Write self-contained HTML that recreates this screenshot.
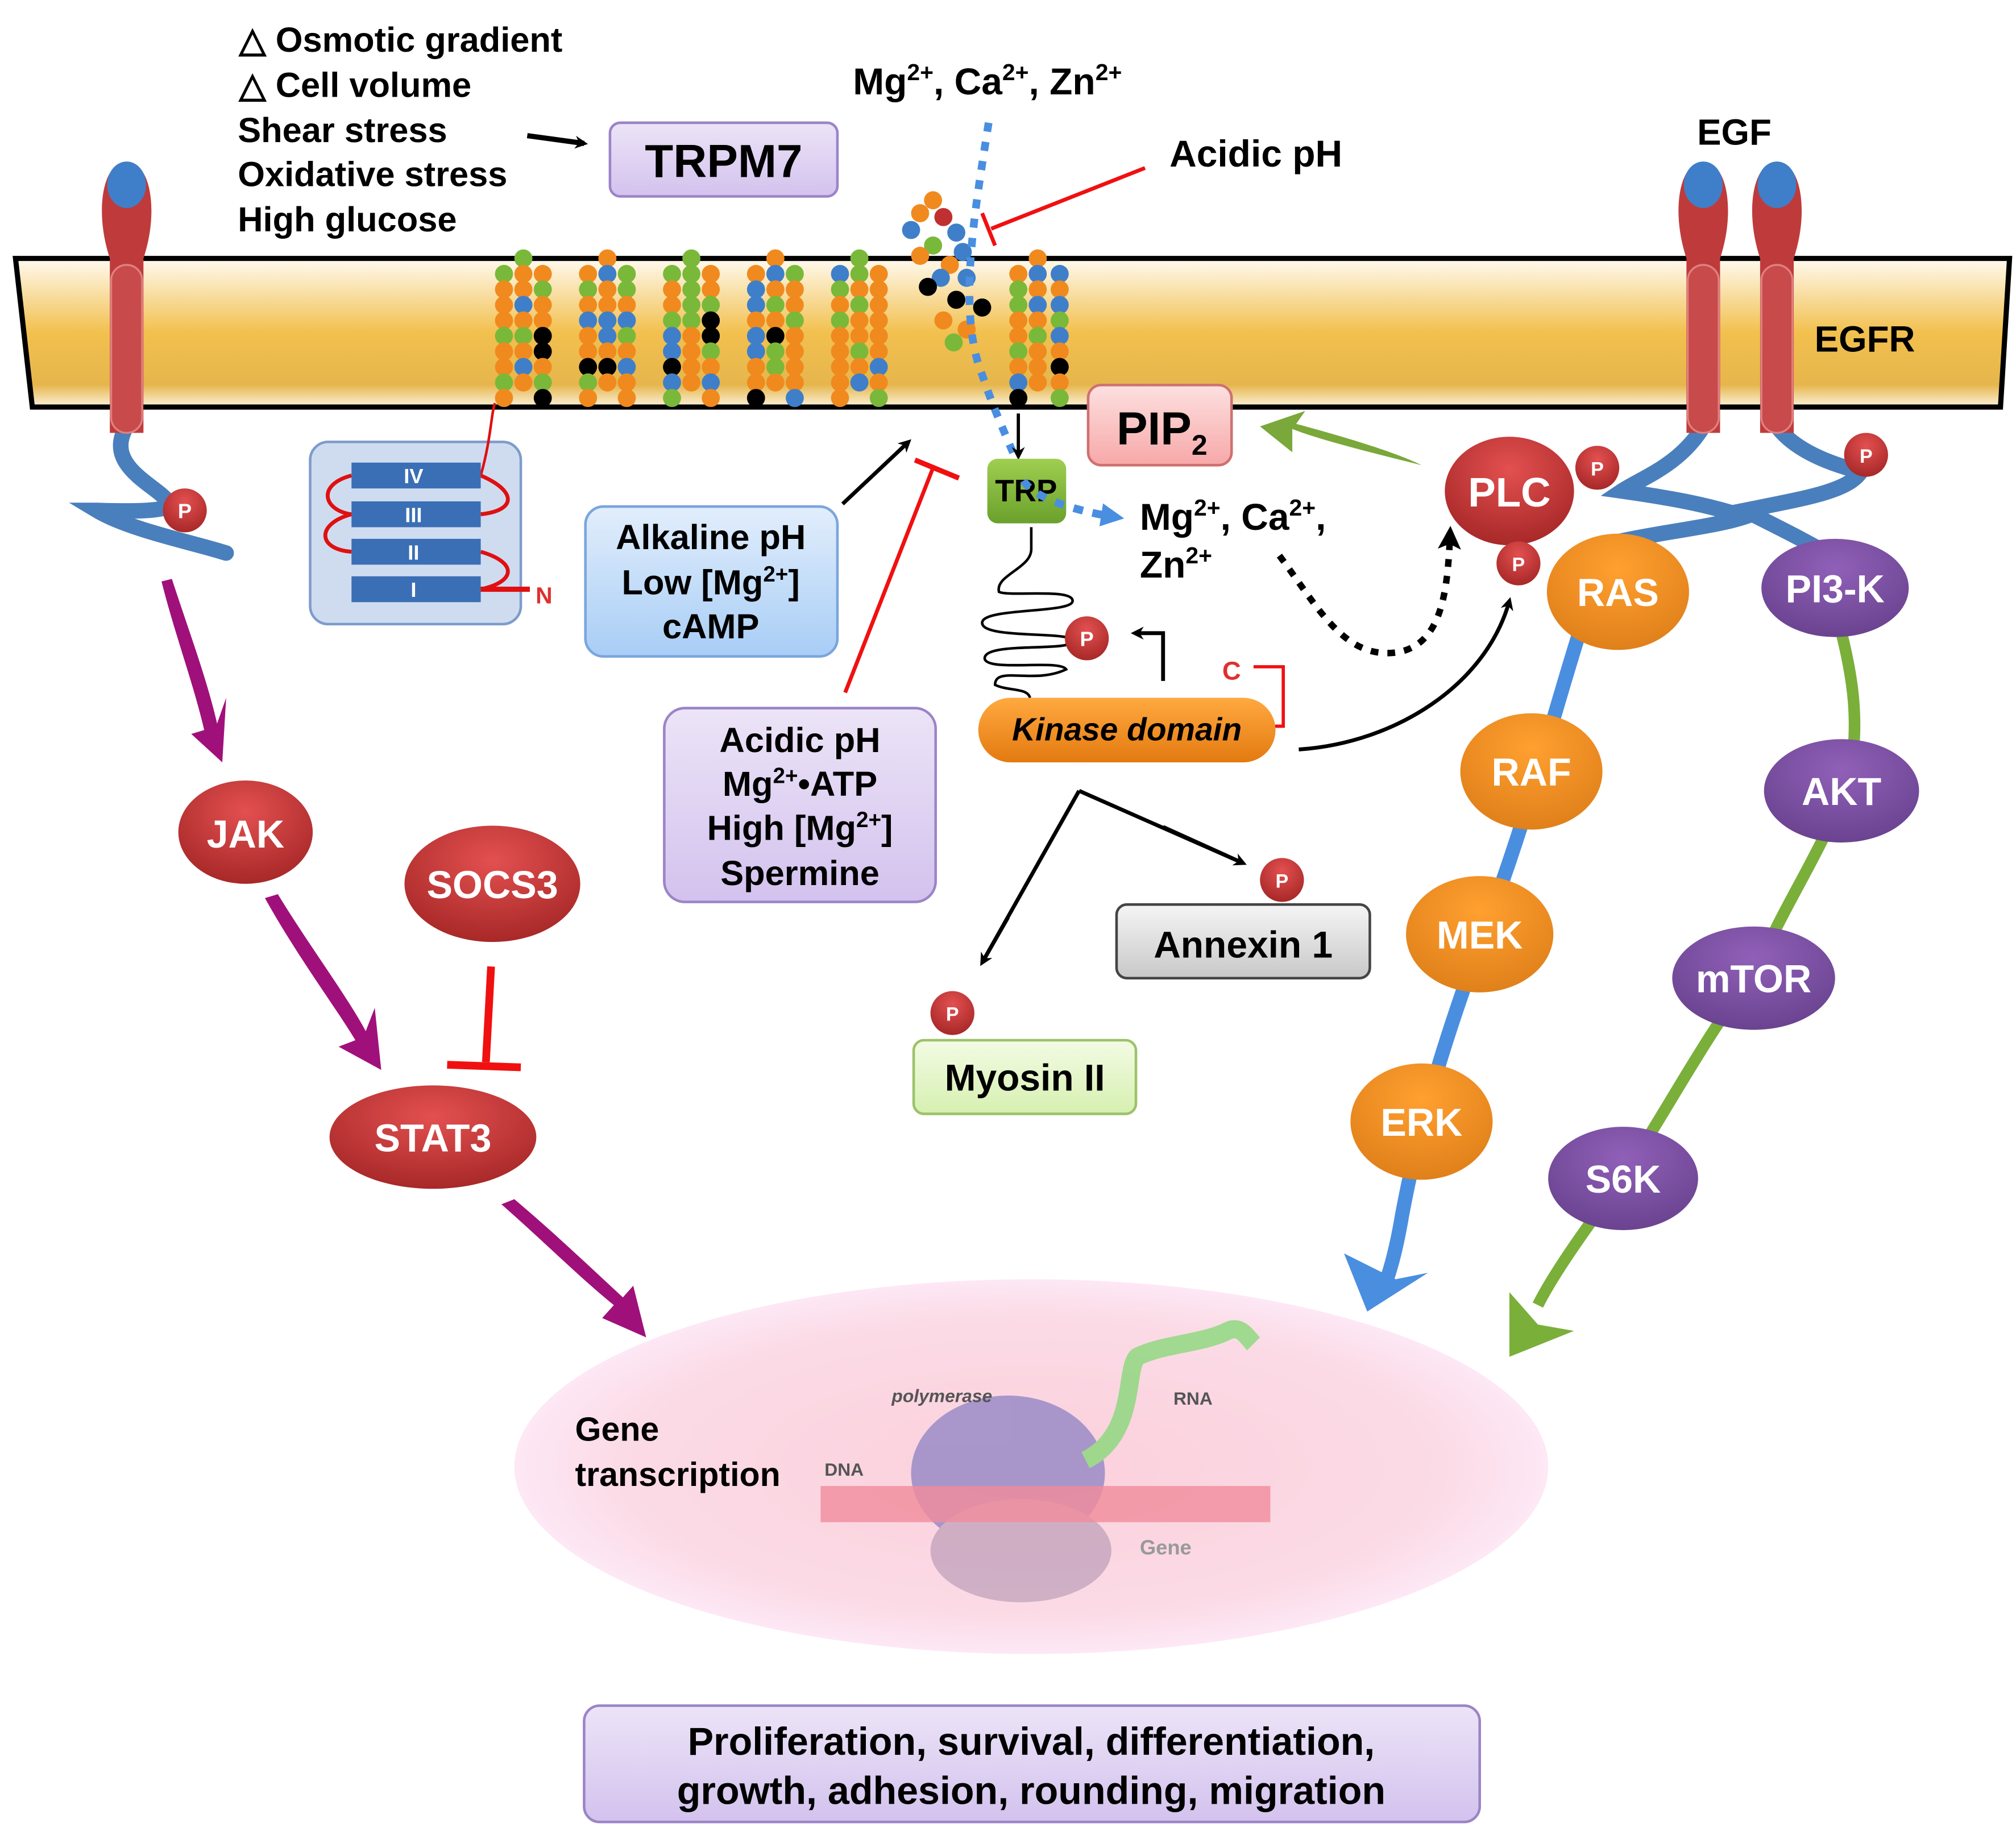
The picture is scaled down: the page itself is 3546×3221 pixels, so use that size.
<!DOCTYPE html>
<html><head><meta charset="utf-8">
<style>
html,body{margin:0;padding:0;background:#fff;}
svg{display:block;}
text{font-family:"Liberation Sans",Arial,sans-serif;font-weight:bold;}
</style></head>
<body>
<svg id="s" width="3546" height="3221" viewBox="0 0 1560 1417" preserveAspectRatio="none" xmlns="http://www.w3.org/2000/svg">
<defs>
<linearGradient id="mem" x1="0" y1="0" x2="0" y2="1">
<stop offset="0" stop-color="#fffaf0"/><stop offset="0.5" stop-color="#f2c04e"/><stop offset="0.85" stop-color="#e6b64d"/><stop offset="1" stop-color="#fbf3dc"/></linearGradient>
<radialGradient id="red" cx="0.5" cy="0.3" r="0.7"><stop offset="0" stop-color="#e35050"/><stop offset="1" stop-color="#a82828"/></radialGradient>
<radialGradient id="org" cx="0.5" cy="0.3" r="0.7"><stop offset="0" stop-color="#ffa030"/><stop offset="1" stop-color="#e0801a"/></radialGradient>
<radialGradient id="pur" cx="0.5" cy="0.3" r="0.7"><stop offset="0" stop-color="#9060b8"/><stop offset="1" stop-color="#6a4390"/></radialGradient>
<radialGradient id="pink" cx="0.5" cy="0.5" r="0.5"><stop offset="0" stop-color="#fbd0dc"/><stop offset="0.8" stop-color="#fbdbe6"/><stop offset="1" stop-color="#fde8f5"/></radialGradient>
<linearGradient id="lav" x1="0" y1="0" x2="0" y2="1"><stop offset="0" stop-color="#ece4f7"/><stop offset="1" stop-color="#d3c2ee"/></linearGradient>
<linearGradient id="lblue" x1="0" y1="0" x2="0" y2="1"><stop offset="0" stop-color="#e2eefc"/><stop offset="1" stop-color="#a8cdf5"/></linearGradient>
<linearGradient id="gray" x1="0" y1="0" x2="0" y2="1"><stop offset="0" stop-color="#f5f5f5"/><stop offset="1" stop-color="#c8c8c8"/></linearGradient>
<linearGradient id="lgreen" x1="0" y1="0" x2="0" y2="1"><stop offset="0" stop-color="#f3fbe4"/><stop offset="1" stop-color="#d6f0b0"/></linearGradient>
<linearGradient id="pinkbox" x1="0" y1="0" x2="0" y2="1"><stop offset="0" stop-color="#fde0e0"/><stop offset="1" stop-color="#f7a8a8"/></linearGradient>
<linearGradient id="kin" x1="0" y1="0" x2="0" y2="1"><stop offset="0" stop-color="#ffa940"/><stop offset="1" stop-color="#e37a10"/></linearGradient>
<linearGradient id="trp" x1="0" y1="0" x2="0" y2="1"><stop offset="0" stop-color="#9fcf50"/><stop offset="1" stop-color="#6aa02c"/></linearGradient>
<marker id="ah" markerWidth="10" markerHeight="10" refX="7" refY="5" orient="auto" markerUnits="userSpaceOnUse"><path d="M0,0 L10,5 L0,10 L3,5 z" fill="#000"/></marker>
<marker id="ahb" markerWidth="18" markerHeight="18" refX="10" refY="9" orient="auto" markerUnits="userSpaceOnUse"><path d="M0,0 L18,9 L0,18 z" fill="#4a8ee0"/></marker>
<marker id="ahk" markerWidth="18" markerHeight="18" refX="10" refY="9" orient="auto" markerUnits="userSpaceOnUse"><path d="M0,0 L18,9 L0,18 L4,9z" fill="#000"/></marker>
</defs>

<polygon points="12,200 1555,200 1548,315 25,315" fill="url(#mem)" stroke="#000" stroke-width="4"/>

<path d="M98,330 C80,360 120,375 130,388 C140,398 80,395 75,395 C100,410 150,420 175,428" fill="none" stroke="#4a7fbd" stroke-width="12" stroke-linecap="round"/>
<path d="M85,335 L85,200 C75,170 78,140 88,130 L108,130 C118,140 121,170 111,200 L111,335 Z" fill="#bf3b3b"/>
<rect x="86" y="205" width="24" height="130" rx="12" fill="#c84a4a" stroke="#e08080" stroke-width="1.5"/>
<ellipse cx="98" cy="143" rx="15" ry="18" fill="#3f7fc9"/>
<circle cx="143" cy="395" r="17" fill="url(#red)"/><text x="143" y="401" font-size="16" fill="#fff" text-anchor="middle">P</text>

<path d="M1318,330 C1300,360 1270,370 1255,380 C1290,385 1320,390 1350,400 C1320,410 1250,415 1225,428" fill="none" stroke="#4a7fbd" stroke-width="12"/>
<path d="M1375,330 C1390,350 1420,360 1440,365 C1430,380 1400,385 1350,395 C1380,410 1400,420 1420,432" fill="none" stroke="#4a7fbd" stroke-width="12"/>
<g>
<path d="M1305,335 L1305,200 C1295,170 1298,140 1308,130 L1328,130 C1338,140 1341,170 1331,200 L1331,335 Z" fill="#bf3b3b"/>
<rect x="1306" y="205" width="24" height="130" rx="12" fill="#c84a4a" stroke="#e08080" stroke-width="1.5"/>
<ellipse cx="1318" cy="143" rx="15" ry="18" fill="#3f7fc9"/>
<path d="M1362,335 L1362,200 C1352,170 1355,140 1365,130 L1385,130 C1395,140 1398,170 1388,200 L1388,335 Z" fill="#bf3b3b"/>
<rect x="1363" y="205" width="24" height="130" rx="12" fill="#c84a4a" stroke="#e08080" stroke-width="1.5"/>
<ellipse cx="1375" cy="143" rx="15" ry="18" fill="#3f7fc9"/>
</g>
<text x="1342" y="112" font-size="28" text-anchor="middle">EGF</text>
<text x="1443" y="272" font-size="28" text-anchor="middle">EGFR</text>

<g id="res"></g>

<rect x="240" y="342" width="163" height="141" rx="14" fill="#cfdcf0" stroke="#7d9ccc" stroke-width="2"/>
<path d="M372,368 C400,380 400,395 372,398 M272,398 C245,405 245,425 272,427 M372,427 C400,435 400,450 372,456 M272,368 C245,375 250,395 272,398" fill="none" stroke="#e01010" stroke-width="3"/>
<path d="M372,368 C380,340 380,320 383,312" fill="none" stroke="#e01010" stroke-width="2"/>
<line x1="372" y1="456" x2="410" y2="456" stroke="#e01010" stroke-width="4"/>
<rect x="272" y="358" width="100" height="20" fill="#3a6fb5"/><text x="320" y="374" font-size="16" font-family="Liberation Serif" font-weight="normal" fill="#fff" text-anchor="middle">IV</text>
<rect x="272" y="388" width="100" height="20" fill="#3a6fb5"/><text x="320" y="404" font-size="16" font-family="Liberation Serif" font-weight="normal" fill="#fff" text-anchor="middle">III</text>
<rect x="272" y="417" width="100" height="20" fill="#3a6fb5"/><text x="320" y="433" font-size="16" font-family="Liberation Serif" font-weight="normal" fill="#fff" text-anchor="middle">II</text>
<rect x="272" y="446" width="100" height="20" fill="#3a6fb5"/><text x="320" y="462" font-size="16" font-family="Liberation Serif" font-weight="normal" fill="#fff" text-anchor="middle">I</text>
<text x="421" y="467" font-size="18" fill="#e03030" text-anchor="middle">N</text>

<g font-size="27">
<text x="185" y="40">△ Osmotic gradient</text>
<text x="185" y="75">△ Cell volume</text>
<text x="184" y="110">Shear stress</text>
<text x="184" y="144">Oxidative stress</text>
<text x="184" y="179">High glucose</text>
</g>
<line x1="408" y1="105" x2="452" y2="111" stroke="#000" stroke-width="4" marker-end="url(#ah)"/>
<rect x="472" y="95" width="176" height="57" rx="8" fill="url(#lav)" stroke="#9b84c8" stroke-width="2"/>
<text x="560" y="137" font-size="36" text-anchor="middle">TRPM7</text>

<text x="660" y="73" font-size="29">Mg<tspan font-size="18" dy="-11">2+</tspan><tspan dy="11">, Ca</tspan><tspan font-size="18" dy="-11">2+</tspan><tspan dy="11">, Zn</tspan><tspan font-size="18" dy="-11">2+</tspan></text>
<text x="905" y="129" font-size="29">Acidic pH</text>
<line x1="886" y1="130" x2="767" y2="177" stroke="#f01010" stroke-width="3"/>
<line x1="760" y1="165" x2="770" y2="190" stroke="#f01010" stroke-width="3"/>

<path d="M765,95 C755,160 740,240 760,290 C770,320 780,340 792,370 C800,385 830,395 862,400" fill="none" stroke="#4a8ee0" stroke-width="6" stroke-dasharray="7,8" marker-end="url(#ahb)"/>
<line x1="788" y1="320" x2="788" y2="353" stroke="#000" stroke-width="2.5" marker-end="url(#ah)"/>

<rect x="764" y="355" width="61" height="50" rx="8" fill="url(#trp)"/>
<text x="794" y="388" font-size="24" font-family="Liberation Serif" text-anchor="middle">TRP</text>
<path d="M792,372 C800,385 830,395 862,400" fill="none" stroke="#4a8ee0" stroke-width="6" stroke-dasharray="7,8"/>

<text x="882" y="410" font-size="29">Mg<tspan font-size="18" dy="-11">2+</tspan><tspan dy="11">, Ca</tspan><tspan font-size="18" dy="-11">2+</tspan><tspan dy="11">,</tspan></text>
<text x="882" y="447" font-size="29">Zn<tspan font-size="18" dy="-11">2+</tspan></text>

<path d="M798,408 L798,425 C798,440 770,445 773,458 C780,462 830,455 830,465 C830,475 760,470 760,482 C760,495 830,488 830,496 C830,505 760,496 762,510 C765,520 820,510 825,518 C800,530 770,515 770,530 C780,535 795,532 797,540" fill="none" stroke="#000" stroke-width="2"/>
<circle cx="841" cy="494" r="17" fill="url(#red)"/><text x="841" y="500" font-size="16" fill="#fff" text-anchor="middle">P</text>
<path d="M900,527 L900,490 L878,490" fill="none" stroke="#000" stroke-width="3" marker-end="url(#ah)"/>
<text x="953" y="526" font-size="20" fill="#e03030" text-anchor="middle">C</text>
<path d="M970,516 L993,516 L993,562 L985,562" fill="none" stroke="#f01010" stroke-width="2.5"/>

<rect x="757" y="540" width="230" height="50" rx="25" fill="url(#kin)"/>
<text x="872" y="573" font-size="25" font-style="italic" text-anchor="middle">Kinase domain</text>

<rect x="842" y="298" width="111" height="62" rx="10" fill="url(#pinkbox)" stroke="#d07070" stroke-width="2"/>
<text x="864" y="344" font-size="36">PIP<tspan font-size="22" dy="8">2</tspan></text>
<path d="M1100,360 C1060,350 1020,340 1000,332 L1000,350 L975,330 L1010,318 L1003,328 C1040,338 1080,350 1100,360 Z" fill="#7aa83a"/>

<rect x="453" y="392" width="195" height="116" rx="14" fill="url(#lblue)" stroke="#7aa6dd" stroke-width="2"/>
<text x="550" y="425" font-size="27" text-anchor="middle">Alkaline pH</text>
<text x="550" y="460" font-size="27" text-anchor="middle">Low [Mg<tspan font-size="17" dy="-10">2+</tspan><tspan dy="10">]</tspan></text>
<text x="550" y="494" font-size="27" text-anchor="middle">cAMP</text>
<line x1="652" y1="390" x2="703" y2="342" stroke="#000" stroke-width="3" marker-end="url(#ah)"/>

<rect x="514" y="548" width="210" height="150" rx="16" fill="url(#lav)" stroke="#9b84c8" stroke-width="2"/>
<text x="619" y="582" font-size="27" text-anchor="middle">Acidic pH</text>
<text x="619" y="616" font-size="27" text-anchor="middle">Mg<tspan font-size="17" dy="-10">2+</tspan><tspan dy="10">•ATP</tspan></text>
<text x="619" y="650" font-size="27" text-anchor="middle">High [Mg<tspan font-size="17" dy="-10">2+</tspan><tspan dy="10">]</tspan></text>
<text x="619" y="685" font-size="27" text-anchor="middle">Spermine</text>
<line x1="654" y1="536" x2="722" y2="362" stroke="#f01010" stroke-width="3"/>
<line x1="708" y1="356" x2="742" y2="370" stroke="#f01010" stroke-width="4"/>

<path d="M990,430 C1020,470 1040,510 1080,505 C1115,500 1120,460 1122,415" fill="none" stroke="#000" stroke-width="5" stroke-dasharray="6,7" marker-end="url(#ahk)"/>
<path d="M1005,580 C1080,575 1150,530 1168,465" fill="none" stroke="#000" stroke-width="3" marker-end="url(#ah)"/>
<ellipse cx="1168" cy="380" rx="50" ry="42" fill="url(#red)"/>
<text x="1168" y="392" font-size="32" fill="#fff" text-anchor="middle">PLC</text>
<circle cx="1236" cy="362" r="17" fill="url(#red)"/><text x="1236" y="368" font-size="15" fill="#fff" text-anchor="middle">P</text>
<circle cx="1175" cy="436" r="17" fill="url(#red)"/><text x="1175" y="442" font-size="15" fill="#fff" text-anchor="middle">P</text>
<circle cx="1444" cy="352" r="17" fill="url(#red)"/><text x="1444" y="358" font-size="15" fill="#fff" text-anchor="middle">P</text>

<path d="M1222,490 C1200,560 1180,640 1145,730 C1120,800 1100,860 1085,940 C1080,970 1075,985 1070,1000" fill="none" stroke="#4a8ee0" stroke-width="11"/>
<path d="M1040,970 L1058,1015 L1105,985 L1080,990 Z" fill="#4a8ee0"/>
<path d="M1425,490 C1435,530 1438,560 1432,600 C1410,660 1380,700 1360,750 C1320,800 1290,860 1250,920 C1220,960 1200,990 1190,1010" fill="none" stroke="#7aaf3a" stroke-width="9"/>
<path d="M1168,1000 L1168,1050 L1218,1030 L1190,1025 Z" fill="#7aaf3a"/>

<g font-size="30" fill="#fff" text-anchor="middle">
<ellipse cx="1252" cy="458" rx="55" ry="45" fill="url(#org)"/><text x="1252" y="469" fill="#fff">RAS</text>
<ellipse cx="1420" cy="455" rx="57" ry="38" fill="url(#pur)"/><text x="1420" y="466" fill="#fff">PI3-K</text>
<ellipse cx="1185" cy="597" rx="55" ry="45" fill="url(#org)"/><text x="1185" y="608" fill="#fff">RAF</text>
<ellipse cx="1145" cy="723" rx="57" ry="45" fill="url(#org)"/><text x="1145" y="734" fill="#fff">MEK</text>
<ellipse cx="1100" cy="868" rx="55" ry="45" fill="url(#org)"/><text x="1100" y="879" fill="#fff">ERK</text>
<ellipse cx="1425" cy="612" rx="60" ry="40" fill="url(#pur)"/><text x="1425" y="623" fill="#fff">AKT</text>
<ellipse cx="1357" cy="757" rx="63" ry="40" fill="url(#pur)"/><text x="1357" y="768" fill="#fff">mTOR</text>
<ellipse cx="1256" cy="912" rx="58" ry="40" fill="url(#pur)"/><text x="1256" y="923" fill="#fff">S6K</text>
</g>

<path d="M835,612 L962,668 M835,612 L760,745" fill="none" stroke="#000" stroke-width="3"/>
<line x1="900" y1="640" x2="962" y2="668" stroke="#000" stroke-width="3" marker-end="url(#ah)"/>
<line x1="780" y1="710" x2="760" y2="745" stroke="#000" stroke-width="3" marker-end="url(#ah)"/>
<rect x="864" y="700" width="196" height="57" rx="8" fill="url(#gray)" stroke="#444" stroke-width="2"/>
<text x="962" y="741" font-size="29" text-anchor="middle">Annexin 1</text>
<circle cx="992" cy="681" r="17" fill="url(#red)"/><text x="992" y="687" font-size="15" fill="#fff" text-anchor="middle">P</text>
<rect x="707" y="805" width="172" height="57" rx="8" fill="url(#lgreen)" stroke="#9cc26a" stroke-width="2"/>
<text x="793" y="844" font-size="29" text-anchor="middle">Myosin II</text>
<circle cx="737" cy="784" r="17" fill="url(#red)"/><text x="737" y="790" font-size="15" fill="#fff" text-anchor="middle">P</text>

<g fill="#a0107a">
<path d="M125,450 C135,490 150,530 158,565 L148,568 L172,590 L175,540 L168,560 C160,525 145,485 133,448 Z"/>
<path d="M205,695 C230,740 260,780 275,805 L262,810 L295,828 L290,780 L283,798 C268,770 238,730 215,692 Z"/>
<path d="M388,932 C420,960 450,990 475,1010 L466,1020 L500,1035 L490,995 L482,1004 C458,982 430,955 398,928 Z"/>
</g>
<ellipse cx="190" cy="644" rx="52" ry="40" fill="url(#red)"/><text x="190" y="656" font-size="30" fill="#fff" text-anchor="middle">JAK</text>
<ellipse cx="381" cy="684" rx="68" ry="45" fill="url(#red)"/><text x="381" y="695" font-size="30" fill="#fff" text-anchor="middle">SOCS3</text>
<line x1="380" y1="748" x2="376" y2="822" stroke="#f01010" stroke-width="6"/>
<line x1="346" y1="824" x2="403" y2="826" stroke="#f01010" stroke-width="6"/>
<ellipse cx="335" cy="880" rx="80" ry="40" fill="url(#red)"/><text x="335" y="891" font-size="30" fill="#fff" text-anchor="middle">STAT3</text>

<ellipse cx="798" cy="1135" rx="400" ry="145" fill="url(#pink)"/>
<text x="445" y="1115" font-size="26" font-weight="normal">Gene</text>
<text x="445" y="1150" font-size="26" font-weight="normal">transcription</text>
<g opacity="0.85">
<ellipse cx="780" cy="1140" rx="75" ry="60" fill="#9a8cc8"/>
<ellipse cx="790" cy="1200" rx="70" ry="40" fill="#c8a8c0"/>
<path d="M840,1130 C880,1110 870,1060 880,1050 C900,1040 930,1040 950,1030 C960,1025 965,1035 970,1040" fill="none" stroke="#8fd880" stroke-width="14"/>
<rect x="635" y="1150" width="348" height="28" fill="#f08090" opacity="0.8"/>
</g>
<text x="690" y="1085" font-size="14" font-family="Liberation Serif" font-style="italic" fill="#555">polymerase</text>
<text x="908" y="1087" font-size="14" font-family="Liberation Serif" fill="#555">RNA</text>
<text x="638" y="1142" font-size="14" font-family="Liberation Serif" fill="#555">DNA</text>
<text x="882" y="1203" font-size="16" font-family="Liberation Serif" fill="#999">Gene</text>

<rect x="452" y="1320" width="693" height="90" rx="12" fill="url(#lav)" stroke="#9b84c8" stroke-width="2"/>
<text x="798" y="1358" font-size="30" text-anchor="middle">Proliferation, survival, differentiation,</text>
<text x="798" y="1396" font-size="30" text-anchor="middle">growth, adhesion, rounding, migration</text>
</svg>
<script>
(function(){
var g=document.getElementById('res');
var cols=['#f08a1e','#f08a1e','#f08a1e','#3f7fc9','#7ab83a','#f08a1e','#3f7fc9','#f08a1e','#7ab83a','#000'];
var helices=[[390,405,420],[455,470,485],[520,535,550],[585,600,615],[650,665,680],[788,803,820]];
var seed=7;
function rnd(){seed=(seed*9301+49297)%233280;return seed/233280;}
helices.forEach(function(h){
 h.forEach(function(x,i){
  var y0=i==1?200:212;
  for(var k=0;k<9;k++){
   var y=y0+k*12;
   if(y>312)break;
   var c=document.createElementNS('http://www.w3.org/2000/svg','circle');
   c.setAttribute('cx',x);c.setAttribute('cy',y);c.setAttribute('r',7);
   c.setAttribute('fill',cols[Math.floor(rnd()*cols.length)]);
   g.appendChild(c);
  }
 });
});
var pts=[[722,155],[712,165],[730,168],[705,178],[740,180],[722,190],[745,195],[712,198],[735,205],[728,215],[748,215],[718,222],[740,232],[760,238],[730,248],[748,255],[738,265]];
var tc=['#f08a1e','#f08a1e','#c03030','#3f7fc9','#3f7fc9','#7ab83a','#3f7fc9','#f08a1e','#f08a1e','#3f7fc9','#3f7fc9','#000','#000','#000','#f08a1e','#f08a1e','#7ab83a'];
pts.forEach(function(p,i){
 var c=document.createElementNS('http://www.w3.org/2000/svg','circle');
 c.setAttribute('cx',p[0]);c.setAttribute('cy',p[1]);c.setAttribute('r',7);c.setAttribute('fill',tc[i]);g.appendChild(c);
});
})();
</script>
</body></html>
